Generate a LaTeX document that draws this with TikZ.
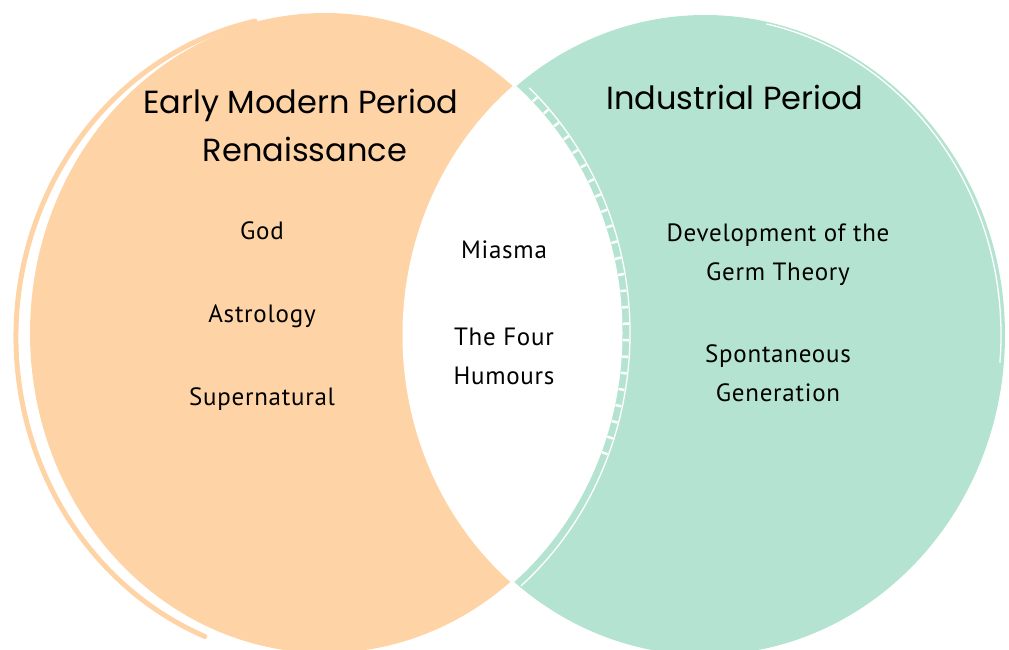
\documentclass[tikz,border=0pt]{standalone}
\usepackage{fontspec}
\newfontfamily\headfont{Poppins}
\newfontfamily\handfont[LetterSpace=3]{PT Sans}
\usetikzlibrary{positioning}

\definecolor{peach}{HTML}{FED4A7}
\definecolor{mint}{HTML}{B4E4D1}

\tikzset{
  head/.style={font=\headfont\fontsize{32}{44}\selectfont, align=center, inner sep=0pt},
  hand/.style={font=\handfont\fontsize{25}{39}\selectfont, align=center, inner sep=0pt},
}

\begin{document}
\begin{tikzpicture}[x=1pt,y=-1pt]
\useasboundingbox (0,0) rectangle (1009,650);

% the two sets
\def\lcx{325}; \def\lcy{333};
\def\lrx{295}; \def\lry{320};
\def\rcx{705}; \def\rcy{335};
\def\rrx{300}; \def\rry{320};

\coordinate (lc) at (\lcx, \lcy);
\coordinate (rc) at (\rcx, \rcy);
\coordinate (lo) at (318, 337);

\fill[peach] (lc) ellipse [x radius=\lrx, y radius=\lry];
\fill[mint] (rc) ellipse [x radius=\rrx, y radius=\rry];

% sketchy outer stroke on the left set
\draw[peach, line width=5pt, line cap=round]
  (lo) ++(258:302 and 323) arc [start angle=258, end angle=112, x radius=302, y radius=323];

% white overlap, with a small gap round it
\begin{scope}
  \clip (lc) ellipse [x radius=\lrx, y radius=\lry];
  \filldraw[white, line width=5pt] (rc) ellipse [x radius=\rrx, y radius=\rry];
\end{scope}
\begin{scope}
  \clip (rc) ellipse [x radius=\rrx, y radius=\rry];
  \filldraw[white, line width=5pt] (lc) ellipse [x radius=\lrx, y radius=\lry];
  % hatched edge of the overlap
  \draw[white, line width=6pt, dash pattern=on 2.5pt off 14pt]
    (lc) ++(-46:301 and 326) arc [start angle=-46, end angle=22, x radius=301, y radius=326];
  \draw[white, line width=1.3pt]
    (lc) ++(-48:305 and 330) arc [start angle=-48, end angle=50, x radius=305, y radius=330];
\end{scope}

% thin inner line on the right set
\draw[white, line width=1.3pt]
  (rc) ++(-78:296 and 318) arc [start angle=-78, end angle=5, x radius=296, y radius=318];

% headings
\node[head](early) at (301, 105) {Early Modern Period};
\node[head](ren) at (305, 149) {Renaissance};
\node[head](ind) at (735, 97) {Industrial Period};

% left set
\node[hand](god) at (262, 231) {God};
\node[hand](astro) at (262, 316) {Astrology};
\node[hand](super) at (262, 399) {Supernatural};

% overlap
\node[hand](miasma) at (504, 250) {Miasma};
\node[hand](humours) at (504, 356) {The Four\\Humours};

% right set
\node[hand](germ) at (778, 255) {Development of the\\Germ Theory};
\node[hand](spont) at (778, 373) {Spontaneous\\Generation};

\end{tikzpicture}
\end{document}
